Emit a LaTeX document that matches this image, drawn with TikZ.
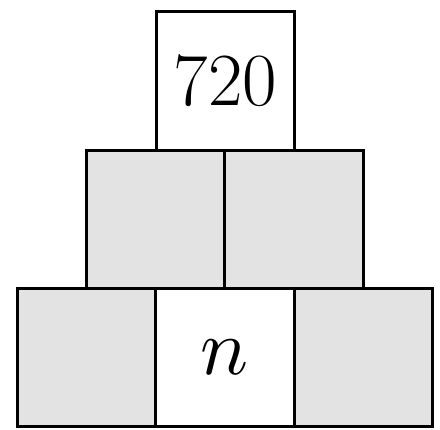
\documentclass[tikz,border=0pt]{standalone}
\DeclareFontShape{OML}{cmm}{m}{it}{<->cmmi10}{}
\begin{document}
\begin{tikzpicture}[x=1pt,y=-1pt,
  cell/.style={draw=black,line width=3pt,minimum size=138.5pt,inner sep=0pt,outer sep=0pt},
  gray/.style={cell,fill=black!11},
  white/.style={cell,fill=white}]
\useasboundingbox (0,0) rectangle (440,430);
\node[gray]  (b1) at (86.25,357.75) {};
\node[white,font=\fontsize{80}{96}\selectfont] (b2) at (224.75,357.75) {$n$};
\node[gray]  (b3) at (363.25,357.75) {};
\node[gray]  (m1) at (155.5,219.75) {};
\node[gray]  (m2) at (294,219.75) {};
\node[white,font=\fontsize{75}{90}\selectfont] (t1) at (225.5,81) {720};
\end{tikzpicture}
\end{document}
